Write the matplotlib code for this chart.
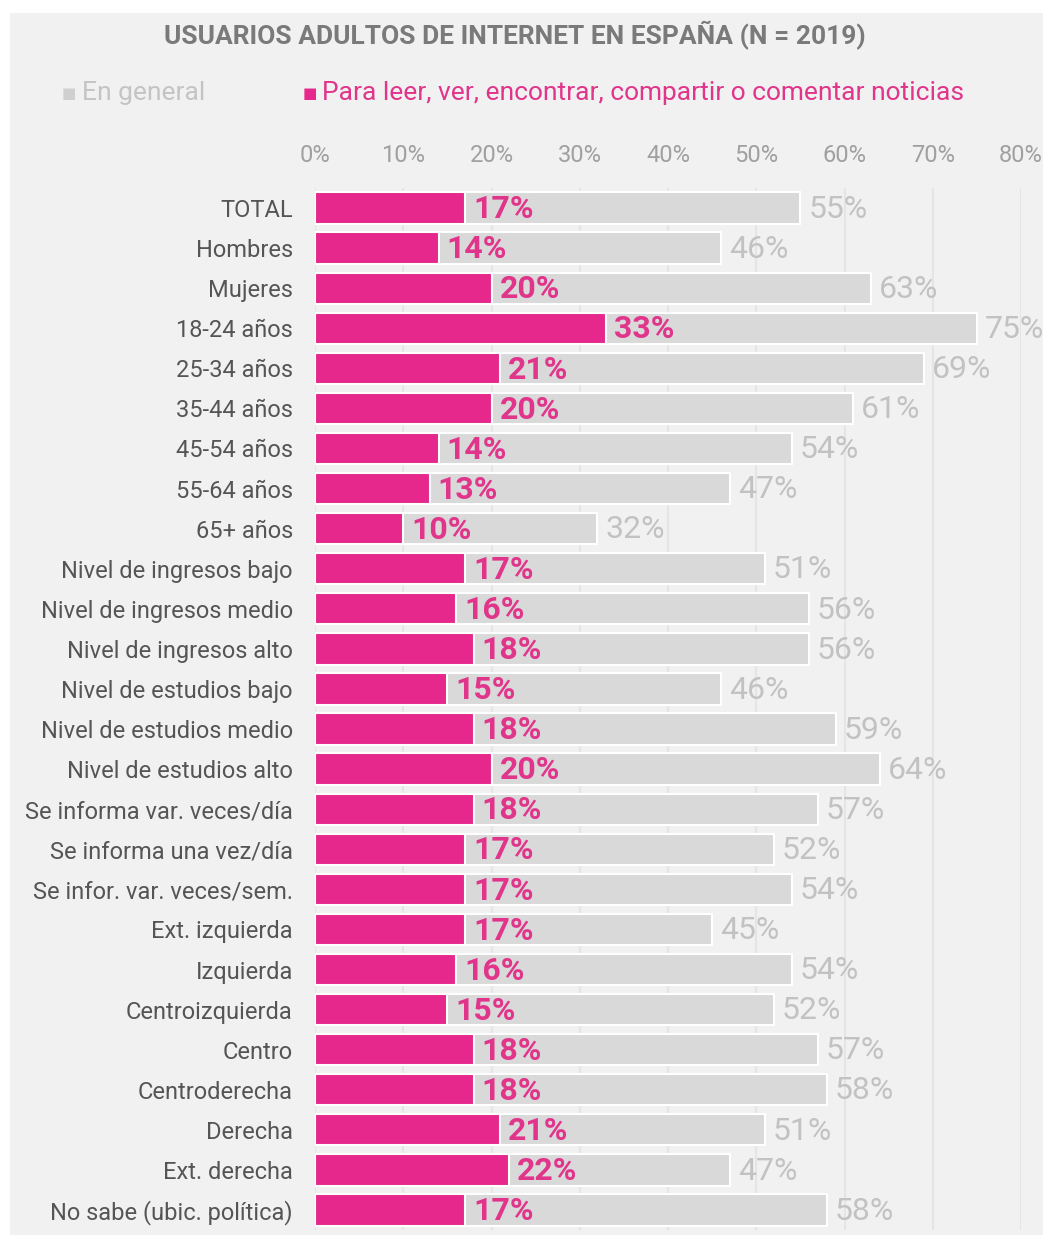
import matplotlib.pyplot as plt
from matplotlib.patches import Rectangle

plt.rcParams['font.family'] = ['Roboto', 'DejaVu Sans']

categorias = [
    "TOTAL", "Hombres", "Mujeres", "18-24 años", "25-34 años", "35-44 años",
    "45-54 años", "55-64 años", "65+ años", "Nivel de ingresos bajo",
    "Nivel de ingresos medio", "Nivel de ingresos alto", "Nivel de estudios bajo",
    "Nivel de estudios medio", "Nivel de estudios alto", "Se informa var. veces/día",
    "Se informa una vez/día", "Se infor. var. veces/sem.", "Ext. izquierda",
    "Izquierda", "Centroizquierda", "Centro", "Centroderecha", "Derecha",
    "Ext. derecha", "No sabe (ubic. política)",
]
en_general = [55, 46, 63, 75, 69, 61, 54, 47, 32, 51, 56, 56, 46, 59, 64,
              57, 52, 54, 45, 54, 52, 57, 58, 51, 47, 58]
noticias = [17, 14, 20, 33, 21, 20, 14, 13, 10, 17, 16, 18, 15, 18, 20,
            18, 17, 17, 17, 16, 15, 18, 18, 21, 22, 17]
ticks = [0, 10, 20, 30, 40, 50, 60, 70, 80]

ROSA = "#e6288c"
ROSA_TXT = "#e0358b"
GRIS_BAR = "#d9d9d9"
GRIS_TXT = "#c2c2c2"
FONDO = "#f1f1f1"

W, H = 1043, 1235
fig = plt.figure(figsize=(W / 100, H / 100), dpi=100)
fig.patch.set_facecolor("white")
fig.patches.append(Rectangle((10 / W, 0), 1 - 10 / W, 1 - 13 / H,
                             transform=fig.transFigure, facecolor=FONDO,
                             edgecolor="none", zorder=-10))

n = len(categorias)
left, right = 315 / W, 1021 / W
top, bottom = 188 / H, 1230 / H
ax = fig.add_axes([left, 1 - bottom, right - left, bottom - top])
ax.set_facecolor("none")

y = list(range(n))
ax.barh(y, en_general, height=0.78, color=GRIS_BAR, edgecolor="white",
        linewidth=1.5, zorder=2)
ax.barh(y, noticias, height=0.78, color=ROSA, edgecolor="white",
        linewidth=1.5, zorder=3)

for i in range(n):
    ax.text(noticias[i] + 0.9, i + 0.03, f"{noticias[i]}%", color=ROSA_TXT,
            fontsize=23, fontweight="bold", va="center", ha="left", zorder=4)
    ax.text(en_general[i] + 0.9, i + 0.03, f"{en_general[i]}%", color=GRIS_TXT,
            fontsize=23, va="center", ha="left", zorder=4, clip_on=False)

ax.set_xlim(0, 80)
ax.set_ylim(n - 0.5, -0.5)
ax.set_xticks(ticks)
ax.set_xticklabels([f"{t}%" for t in ticks])
ax.xaxis.tick_top()
ax.tick_params(axis="x", length=0, pad=15, labelsize=17, labelcolor="#a0a0a0")
ax.set_yticks(y)
ax.set_yticklabels(categorias)
ax.tick_params(axis="y", length=0, pad=16, labelsize=17, labelcolor="#555555")
ax.grid(axis="x", color="#e5e5e5", linewidth=1.5, zorder=0)
ax.grid(axis="y", visible=False)
ax.set_axisbelow(True)
for s in ax.spines.values():
    s.set_visible(False)

fig.text(515 / W, 1 - 35 / H, "USUARIOS ADULTOS DE INTERNET EN ESPAÑA (N = 2019)",
         ha="center", va="center", fontsize=19, fontweight="bold", color="#7a7a7a")

# leyenda
fig.text(62 / W, 1 - 94 / H, "■", ha="left", va="center", fontsize=11, color="#cfcfcf")
fig.text(82 / W, 1 - 93 / H, "En general", ha="left", va="center", fontsize=19,
         color="#c4c4c4")
fig.text(303 / W, 1 - 94 / H, "■", ha="left", va="center", fontsize=11, color=ROSA)
fig.text(322 / W, 1 - 93 / H, "Para leer, ver, encontrar, compartir o comentar noticias",
         ha="left", va="center", fontsize=19, color=ROSA_TXT)

fig.savefig("out.png", dpi=100, facecolor=fig.get_facecolor())
